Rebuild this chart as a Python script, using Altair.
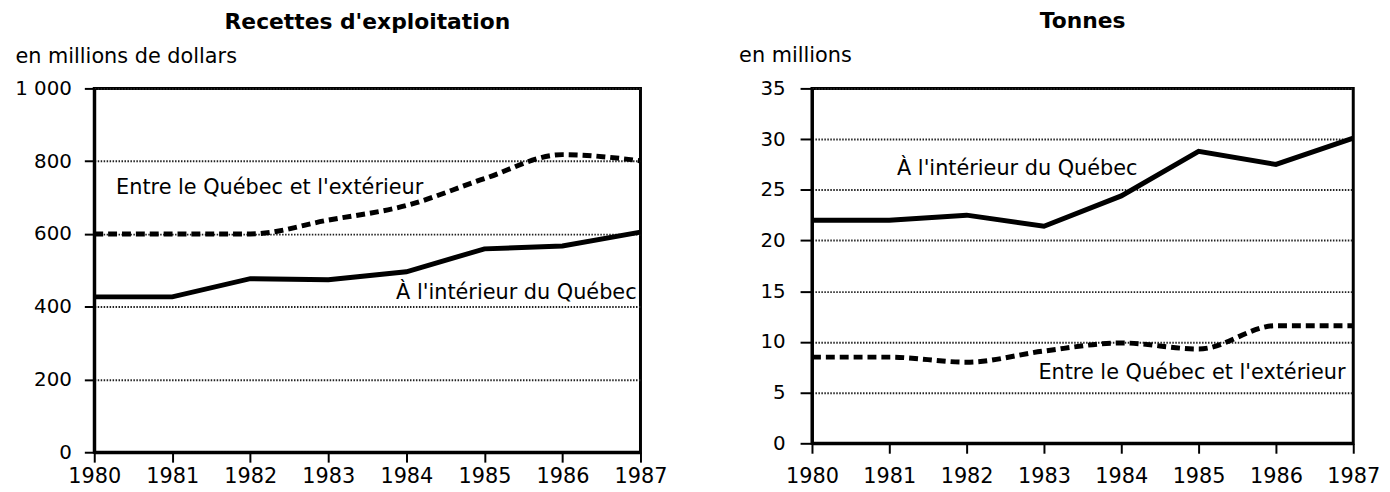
import altair as alt
import pandas as pd

# ---------------- data ----------------
years = [1980, 1981, 1982, 1983, 1984, 1985, 1986, 1987]
series_int = "À l'intérieur du Québec"
series_ext = "Entre le Québec et l'extérieur"

# Recettes d'exploitation (millions de dollars)
rev_interieur = [427, 427, 477, 474, 496, 559, 567, 605]
rev_exterieur = [600, 600, 600, 638, 678, 752, 818, 801]

# Tonnes (millions)
ton_interieur = [22.0, 22.0, 22.5, 21.4, 24.4, 28.8, 27.5, 30.1]
ton_exterieur = [8.5, 8.5, 8.0, 9.1, 9.9, 9.3, 11.6, 11.6]

rev_ticks = [0, 200, 400, 600, 800, 1000]
ton_ticks = [0, 5, 10, 15, 20, 25, 30, 35]

rev_labels = [series_ext, series_int]
rev_label_x = [1980.28, 1986.95]
rev_label_y = [711, 420]
rev_label_align = ["left", "right"]

ton_labels = [series_int, series_ext]
ton_label_x = [1981.1, 1986.9]
ton_label_y = [26.5, 6.3]
ton_label_align = ["left", "right"]

FONT = "DejaVu Sans"


def long_df(a, b):
    return pd.DataFrame({
        "year": years * 2,
        "value": a + b,
        "series": [series_int] * len(years) + [series_ext] * len(years),
    })


def panel(df, ticks, ymax, ttl, ytitle, width, height, ytx, yty,
          ytick, ypad, xpad, lab, lx, ly, lal):
    xs = alt.X("year:Q",
               scale=alt.Scale(domain=[1980, 1987], nice=False, zero=False),
               axis=alt.Axis(values=years, format="d", tickSize=10,
                             labelPadding=xpad, title=None, grid=False,
                             labelFlush=False, labelFontSize=21))
    ys = alt.Y("value:Q",
               scale=alt.Scale(domain=[0, ymax], nice=False),
               axis=alt.Axis(values=ticks, tickSize=ytick, labelPadding=ypad,
                             labelFontSize=20,
                             title=ytitle, titleAngle=0, titleAlign="left",
                             titleBaseline="alphabetic", titleX=ytx, titleY=yty,
                             labelExpr="replace(format(datum.value, ','), ',', ' ')"))
    base = alt.Chart(df)
    solid = base.transform_filter(alt.datum.series == series_int).mark_line(
        color="black", strokeWidth=5).encode(x=xs, y=ys)
    dashed = base.transform_filter(alt.datum.series == series_ext).mark_line(
        color="black", strokeWidth=5, strokeDash=[9, 5],
        interpolate="monotone").encode(x="year:Q", y="value:Q")
    ann_df = pd.DataFrame({"t": lab, "x": lx, "y": ly, "a": lal})
    texts = []
    for al in ["left", "right"]:
        texts.append(
            alt.Chart(ann_df).transform_filter(alt.datum.a == al).mark_text(
                align=al, baseline="alphabetic", font=FONT, fontSize=21,
                color="black").encode(x="x:Q", y="y:Q", text="t:N"))
    return alt.layer(solid, dashed, *texts).properties(
        width=width, height=height,
        title=alt.Title(ttl, offset=12))


left = panel(long_df(rev_interieur, rev_exterieur), rev_ticks, 1000,
             "Recettes d'exploitation", "en millions de dollars",
             551, 367, -80, -26, 10, 13, 4,
             rev_labels, rev_label_x, rev_label_y, rev_label_align)
right = panel(long_df(ton_interieur, ton_exterieur), ton_ticks, 35,
              "Tonnes", "en millions",
              546, 358, -74, -27, 12, 15, 13,
              ton_labels, ton_label_x, ton_label_y, ton_label_align)

chart = alt.hconcat(left, right, spacing=173, bounds="flush").configure(
    padding={"left": 5, "top": -2, "right": 0, "bottom": 0},
    background="white"
).configure_view(
    stroke="black", strokeWidth=3
).configure_axis(
    labelFont=FONT, labelFontSize=21, labelColor="black",
    tickColor="black", tickWidth=2,
    domainColor="black", domainWidth=3,
    gridColor="#222222", gridDash=[1.5, 1.5], gridWidth=2,
    titleFont=FONT, titleFontSize=21, titleFontWeight="normal",
    titleColor="black"
).configure_title(
    font=FONT, fontSize=22, fontWeight="bold", color="black",
    anchor="middle", frame="group"
)

chart.save("out.html", embed_options={"renderer": "svg", "actions": False})
